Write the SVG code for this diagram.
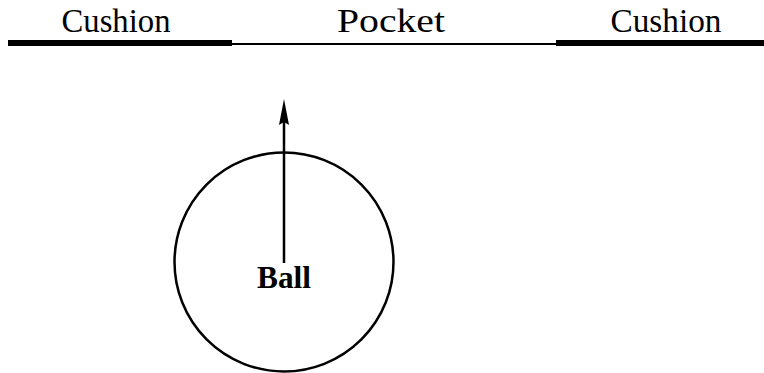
<svg xmlns="http://www.w3.org/2000/svg" width="764" height="373" viewBox="0 0 764 373">
<style>
.lbl{font-family:"Liberation Serif","DejaVu Serif",serif;font-size:33px;fill:#000;text-anchor:middle}
.bold{font-weight:bold;font-size:31px}
</style>
<rect width="764" height="373" fill="#fff"/>
<g id="rail">
<line x1="8" y1="43" x2="232" y2="43" stroke="#000" stroke-width="6"/>
<line x1="232" y1="44" x2="556" y2="44" stroke="#000" stroke-width="2"/>
<line x1="556" y1="43" x2="764" y2="43" stroke="#000" stroke-width="6"/>
</g>
<g id="cushion-left"><text class="lbl" x="116" y="32" textLength="109" lengthAdjust="spacingAndGlyphs">Cushion</text></g>
<g id="pocket"><text class="lbl" x="391" y="32" textLength="108" lengthAdjust="spacingAndGlyphs">Pocket</text></g>
<g id="cushion-right"><text class="lbl" x="666" y="32" textLength="111" lengthAdjust="spacingAndGlyphs">Cushion</text></g>
<g id="ball">
<circle cx="284" cy="262" r="109.5" fill="none" stroke="#000" stroke-width="2.5"/>
<text class="lbl bold" x="284" y="288" textLength="54" lengthAdjust="spacingAndGlyphs">Ball</text>
</g>
<g id="connectors">
<line x1="284" y1="263" x2="284" y2="122" stroke="#000" stroke-width="2.5"/>
<path d="M284,99 L289,125 L284,122 L279,125 Z" fill="#000"/>
</g>
</svg>
